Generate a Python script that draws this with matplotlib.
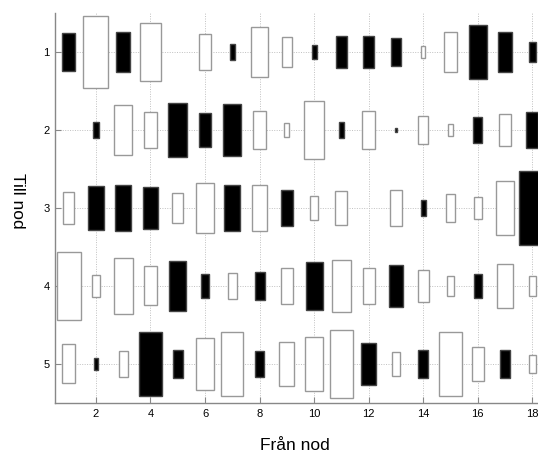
import matplotlib
matplotlib.use("Agg")
import matplotlib.pyplot as plt
from matplotlib.patches import Rectangle
import numpy as np

plt.rcParams['font.family'] = ['Liberation Sans', 'DejaVu Sans']

from_nodes = list(range(1, 19))
to_nodes = [1, 2, 3, 4, 5]
x_ticks = [2, 4, 6, 8, 10, 12, 14, 16, 18]

# signed box sizes: positive = black box, negative = white box, 0 = none
row1 = [0.48, -0.915, 0.52, -0.74, 0.0, -0.45, 0.205, -0.63, -0.39,
        0.19, 0.40, 0.40, 0.36, -0.16, -0.51, 0.68, 0.51, 0.26]
row2 = [0.0, 0.205, -0.65, -0.46, 0.69, 0.44, 0.67, -0.49, -0.19,
        -0.75, 0.20, -0.49, 0.05, -0.36, -0.16, 0.33, -0.41, 0.45]
row3 = [-0.41, 0.57, 0.60, 0.55, -0.39, -0.64, 0.60, -0.58, 0.45,
        -0.31, -0.44, 0.0, -0.45, 0.20, -0.36, -0.29, -0.69, 0.96]
row4 = [-0.88, -0.28, -0.71, -0.50, 0.64, 0.30, -0.33, 0.37, -0.45,
        0.62, -0.67, -0.45, 0.54, -0.42, -0.25, 0.31, -0.57, -0.26]
row5 = [-0.50, 0.16, -0.33, 0.83, 0.37, -0.66, -0.81, 0.33, -0.56,
        -0.68, -0.86, 0.55, -0.32, 0.35, -0.81, -0.43, 0.35, -0.24]
rows = [row1, row2, row3, row4, row5]

fig = plt.figure(figsize=(5.38, 4.55), dpi=100)
W, H = 538, 455
ax = fig.add_axes([55 / W, 1 - 403 / H, (546 - 55) / W, (403 - 13) / H])

ax.set_xlim(0.5, 18.5)
ax.set_ylim(5.5, 0.5)

for xv in x_ticks:
    ax.axvline(xv, color='#c0c0c0', lw=0.7, ls=(0, (1, 1.5)), zorder=0)
for yv in to_nodes:
    ax.axhline(yv, color='#c0c0c0', lw=0.7, ls=(0, (1, 1.5)), zorder=0)

for r, vals in zip(to_nodes, rows):
    for c, v in zip(from_nodes, vals):
        if v == 0:
            continue
        s = abs(v)
        if v > 0:
            fc, ec = 'black', '#444444'
        else:
            fc, ec = 'white', '#999999'
        ax.add_patch(Rectangle((c - s / 2, r - s / 2), s, s, facecolor=fc,
                               edgecolor=ec, lw=1.0, zorder=2))

ax.set_xticks(x_ticks)
ax.set_yticks(to_nodes)
ax.tick_params(direction='in', length=4, width=0.8, color='#888888',
               labelsize=8, pad=4)
for sp in ['top', 'right']:
    ax.spines[sp].set_visible(False)
for sp in ['left', 'bottom']:
    ax.spines[sp].set_color('#888888')
    ax.spines[sp].set_linewidth(1.0)

fig.text(295 / W, 1 - 446 / H, 'Från nod', ha='center', va='center', fontsize=12.5)
fig.text(17 / W, 1 - 201 / H, 'Till nod', ha='center', va='center', fontsize=12.5,
         rotation=270)

fig.savefig('out.png', dpi=100)
